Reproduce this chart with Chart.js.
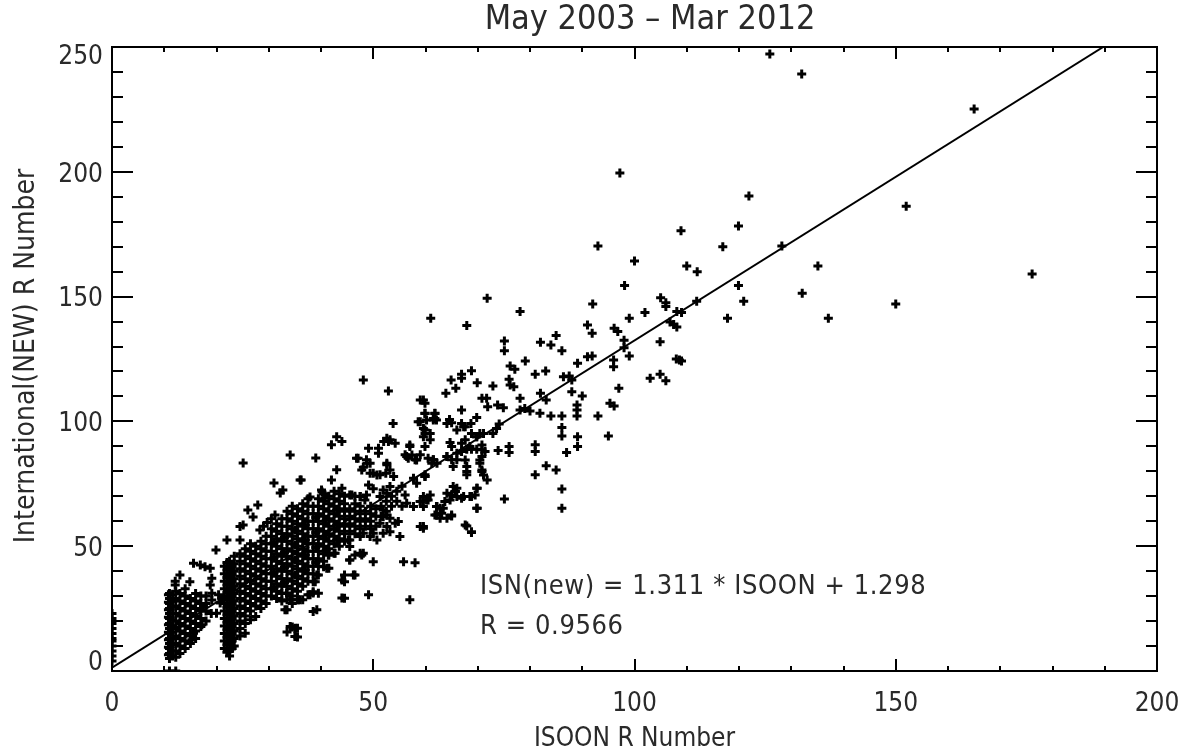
<!DOCTYPE html>
<html>
<head>
<meta charset="utf-8">
<title>ISOON vs International R Number</title>
<script src="https://cdn.jsdelivr.net/npm/chart.js@4.4.0/dist/chart.umd.min.js"></script>
<style>
  html, body { margin: 0; padding: 0; background: #fff; }
  #wrap { width: 1193px; height: 752px; }
</style>
</head>
<body>
<div id="wrap"><canvas id="myChart" width="1193" height="752"></canvas></div>
<script>
// values, as [ISOON R, International(NEW) R]
const isoonZero = [[0,4],[0,6],[0,8],[0,10],[0,12],[0,13],[0,15],[0,17],[0,19],[0,21],[0,23]];

const nearEleven = [
  [11,0],[11,5],[11,7],[11,9],[11,11],[11,13],[11,15],[11,17],[11,19],[11,21],[11,23],[11,25],[11,27],[11,29],[11,31],
  [10.8,6.5],[10.8,9.5],[10.8,12.5],[10.8,15.5],[10.8,18.5],[10.8,21.5],[10.8,24.5],[10.8,27.5],[10.8,30.5],
  [11.6,6],[11.6,8],[11.6,10.5],[11.6,13],[11.6,15.5],[11.6,18],[11.6,20.5],[11.6,23],[11.6,25.5],[11.6,28],[11.6,30.5],
  [12.2,0],[12.2,5.5],[12.2,8],[12.2,11],[12.2,14],[12.2,17],[12.2,20],[12.2,23],[12.2,26],[12.2,29],[12.2,32],[12.1,34.5],[12.1,36],
  [13,7],[13,10],[13,13],[13,16],[13,19],[13,22],[13,25],[13,28],[13,31],[13,38.5],
  [14,9],[14,12],[14,15],[14,18],[14,21],[14,24],[14,27],[14,30],[14,33],
  [15,11],[15,14],[15,17],[15,20],[15,23],[15,26],[15,29],[14.9,35.8],
  [16,13],[16,16],[16,19],[16,22],[16,25],[16,28],[16,31],
  [17,17.8],[17,21],[17,24],[17,27],[17,30],
  [18,20],[18,24],[18,27],[18,30],
  [19,23],[19.1,28.4],[19.1,31.1],[18.8,34.5],[19.1,37.2],
  [20,23.1],[20.4,30.5],[20.7,27.2],[21,29],
  [15.6,43.2],[16.9,42.5],[17.8,41.8],[18.8,41.2],
  [15.3,12.5],[15.6,15.1],[17.2,18.5],[17.5,25.8],[19.9,48.5]
];

const nearTwentyTwo = [
  [21.5,9],[21.5,12],[21.5,15],[21.5,18],[21.5,21],[21.5,24],[21.5,27],[21.5,30],[21.5,33],[21.5,36],[21.5,39],[21.5,42],
  [22.0,7.5],[22.0,10.5],[22.0,13.5],[22.0,16.5],[22.0,19.5],[22.0,22.5],[22.0,25.5],[22.0,28.5],[22.0,31.5],[22.0,34.5],[22.0,37.5],[22.0,40.5],[22.0,43.5],
  [22.5,6],[22.5,8],[22.5,11],[22.5,14],[22.5,17],[22.5,20],[22.5,23],[22.5,26],[22.5,29],[22.5,32],[22.5,35],[22.5,38],[22.5,41],[22.5,44],
  [23.0,9],[23.0,12],[23.0,15],[23.0,18],[23.0,21],[23.0,24],[23.0,27],[23.0,30],[23.0,33],[23.0,36],[23.0,39],[23.0,42],
  [23.4,10],[23.4,13],[23.4,16],[23.4,19],[23.4,22],[23.4,25],[23.4,28],[23.4,31],[23.4,34],[23.4,37],[23.4,40],[23.4,43],[23.4,46],
  [22,52.5]
];

const midRange = [
  [24.5,14],[24.5,17],[24.5,20],[24.5,23],[24.5,26],[24.5,29],[24.5,32],[24.5,35],[24.5,38],[24.5,41],[24.5,44],[24.5,47],[24.5,52.5],[24.5,57.9],
  [25.5,15.1],[25.5,19],[25.5,22],[25.5,25],[25.5,28],[25.5,31],[25.5,34],[25.5,37],[25.5,40],[25.5,43],[25.5,46],[25.5,49],
  [25.1,58.5],[25.1,83.3],
  [26.5,20.5],[26.5,24],[26.5,27],[26.5,30],[26.5,33],[26.5,36],[26.5,39],[26.5,42],[26.5,45],[26.5,48],[26.5,51],
  [26.0,64.5],[27.0,61.7],[27.9,66.5],
  [27.5,21.8],[27.5,26],[27.5,29],[27.5,32],[27.5,35],[27.5,38],[27.5,41],[27.5,44],[27.5,47],[27.5,50],
  [28.5,25],[28.5,28],[28.5,31],[28.5,34],[28.5,37],[28.5,40],[28.5,43],[28.5,46],[28.5,49],[28.5,52],
  [28.3,56.5],[29.0,58],[29.7,59.5],[30.5,61],[31.2,62.5],
  [29.5,27],[29.5,30],[29.5,33],[29.5,36],[29.5,39],[29.5,42],[29.5,45],[29.5,48],[29.5,51],[29.5,54],
  [30.5,30],[30.5,33],[30.5,36],[30.5,39],[30.5,42],[30.5,45],[30.5,48],[30.5,51],[30.5,54],[30.5,57],
  [31.5,29],[31.5,32],[31.5,35],[31.5,38],[31.5,41],[31.5,44],[31.5,47],[31.5,50],[31.5,53],[31.5,56],[31.5,59],
  [31.0,75.3],
  [32.5,28],[32.5,31],[32.5,34],[32.5,37],[32.5,40],[32.5,43],[32.5,46],[32.5,49],[32.5,52],[32.5,55],[32.5,58],[32.5,61],
  [32.7,72.5],[32.2,71.3],
  [33.5,15.6],[33.5,24.5],[33.5,28.5],[33.5,31],[33.5,34],[33.5,37],[33.5,40],[33.5,43],[33.5,46],[33.5,49],[33.5,52],[33.5,55],[33.5,58],[33.5,61],[33.5,64],
  [34.5,17.6],[34.5,27],[34.5,30],[34.5,33],[34.5,36],[34.5,39],[34.5,42],[34.5,45],[34.5,48],[34.5,51],[34.5,54],[34.5,57],[34.5,60],[34.5,63],[34.5,66],
  [34.1,86.5],
  [35.5,13.6],[35.5,17.1],[35.5,28.5],[35.5,32],[35.5,35],[35.5,38],[35.5,41],[35.5,44],[35.5,47],[35.5,50],[35.5,53],[35.5,56],[35.5,59],[35.5,62],[35.5,65],
  [36.5,28.5],[36.5,34],[36.5,37],[36.5,40],[36.5,43],[36.5,46],[36.5,49],[36.5,52],[36.5,55],[36.5,58],[36.5,61],[36.5,64],[36.5,67],
  [36.2,76.5],[36.0,76.5],
  [37.5,30.5],[37.5,36],[37.5,39],[37.5,42],[37.5,45],[37.5,48],[37.5,51],[37.5,54],[37.5,57],[37.5,60],[37.5,63],[37.5,66],[37.5,69],
  [37.9,69.7],
  [38.5,23.8],[38.5,31.8],[38.5,35.8],[38.5,39],[38.5,42],[38.5,45],[38.5,48],[38.5,51],[38.5,54],[38.5,57],[38.5,60],[38.5,63],[38.5,66],
  [39.0,85.3],
  [39.5,31.1],[39.5,38.5],[39.5,42],[39.5,45],[39.5,48],[39.5,51],[39.5,54],[39.5,57],[39.5,60],[39.5,63],[39.5,66],[39.5,69],
  [40.1,72.5],
  [40.5,41.8],[40.5,44],[40.5,47],[40.5,50],[40.5,53],[40.5,56],[40.5,59],[40.5,62],[40.5,65],[40.5,68],[40.5,71],
  [40.2,71.7],[40.8,69.3],
  [41.5,41.2],[41.5,46.5],[41.5,49],[41.5,52],[41.5,55],[41.5,58],[41.5,61],[41.5,64],[41.5,67],[41.5,70],
  [42.0,76.5],
  [42.5,47.2],[42.5,51],[42.5,54],[42.5,57],[42.5,60],[42.5,63],[42.5,66],[42.5,69],[42.5,72],
  [43.0,80.6],[42.0,90.6],
  [43.5,50],[43.5,53],[43.5,56],[43.5,59],[43.5,62],[43.5,65],[43.5,68],[43.5,71],
  [44.0,73.2],[43.0,93.9],
  [44.5,29.1],[44.5,35.8],[44.5,38.5],[44.5,52],[44.5,55],[44.5,58],[44.5,61],[44.5,64],[44.5,67],[44.5,70],
  [44.0,91.9],
  [45.5,44.5],[45.5,49.9],[45.5,52.5],[45.5,56],[45.5,59],[45.5,62],[45.5,65],[45.5,70.5],
  [46.5,38.5],[46.5,46.5],[46.5,55],[46.5,58],[46.5,61],[46.5,64],[46.5,67],
  [47.5,47.2],[47.5,53.9],[47.5,57],[47.5,60],[47.5,63],[47.5,69.9],
  [31,33.5],[31,39.5],[31,45.5],[31,51.5],[33,35.5],[33,41.5],[33,47.5],[33,53.5],
  [35,38.5],[35,44.5],[35,50.5],[35,56.5],[37,40.5],[37,46.5],[37,52.5],[37,58.5],
  [39,43.5],[39,49.5],[39,55.5],[39,61.5],[41,48.5],[41,54.5],[41,60.5],[43,52.5],[43,58.5],[43,64.5]
];

const upperRange = [
  [46.8,85.2],[47.1,85.2],[47.8,80.5],[48.1,81.6],[48.7,84.6],[48.8,83.2],[49.4,83.2],[49.1,89.2],[51.0,89.2],[51.0,87.2],
  [50.0,79.2],[49.4,79.2],[50.7,78.5],[51.3,78.6],[52.4,79.2],[52.6,82.6],[52.6,83.2],[53.2,80.5],[53.9,77.9],
  [52.0,91.9],[52.6,93.2],[52.9,91.9],[53.2,92.6],[54.2,91.2],[53.8,99.2],[52.9,112.2],[48.1,116.6],
  [49.1,74.5],[53.2,73.9],[51.9,72.5],[52.6,71.2],[51.3,69.9],[45.9,70.5],[47.5,69.9],[48.4,68.5],[48.7,70.5],
  [48.5,58],[48.5,61],[48.5,64],[49.5,57],[49.5,60],[49.5,63],[49.5,66],[50.5,58],[50.5,62],[50.5,65],
  [51.5,62],[51.5,66],[52.5,64],[52.5,68],[53.5,66],[53.5,70],[54.5,68],[54.5,72],[55.5,66],[55.5,74],
  [50.0,73],[47.5,66],[46.5,70],
  [51.9,61.9],[51.3,59.2],[52.6,57.9],[51.9,55.2],[50.0,55.2],[48.1,55.2],[49.4,53.9],[50.7,52.5],[53.2,55.8],
  [55.1,53.9],[54.8,59.9],[54.2,59.2],[52.6,62.5],[53.2,61.2],[51.9,64.5],
  [45.2,52.5],[48.1,47.2],[47.8,46.5],[45.5,44.5],[46.2,38.5],[44.0,36.5],[50.0,43.8],[44.0,29.2],[49.1,30.5],
  [55.8,43.8],[58.0,43.4],[57.0,28.5],[41.4,46.5],[41.1,41.2],[42.7,47.2],[38.5,31.2],[39.2,24.5],[36.0,28.5],
  [34.1,17.8],[35.0,17.1],[35.0,13.8],[33.4,31.2],[34.1,28.5],[33.1,24.5],[39.2,38.5],[38.9,35.8],[37.9,30.5],[35.7,28.5],
  [57.0,89.9],[56.1,86.6],[56.7,85.2],[58.0,84.6],[59.0,86.6],[60.5,85.2],[61.5,84.6],[56.4,85.9],[57.4,86.5],[58.3,84.5],
  [57.0,90.5],[57.7,77.2],[59.9,77.9],[58.3,75.2],[56.1,70.5],[56.4,67.2],[57.7,65.9],[59.0,67.9],[60.2,68.5],[60.9,70.5],
  [62.1,65.9],[62.1,62.5],[59.0,57.9],[59.6,57.2],
  [59.9,95.2],[59.6,97.2],[58.6,99.9],[60.2,100.6],[59.9,103.3],[61.8,103.3],[61.5,101.2],[62.1,100.6],[59.6,108.6],[59.9,107.3],[59.0,108.6],
  [62.2,83.2],[64.1,85.9],[66.0,87.2],[67.6,84.5],[68.5,89.9],[67.6,92.6],[70.8,90.5],[71.4,87.9],[68.8,95.2],[61.5,100.6],
  [64.1,99.2],[66.0,96.6],[67.3,97.9],[69.8,93.9],[70.4,84.5],[70.8,80.5],[71.1,78.5],
  [65.3,73.9],[65.7,71.9],[66.0,69.9],[67.3,69.9],[68.5,69.9],[69.5,70.5],[69.8,73.2],[64.1,71.2],[64.7,68.5],[62.2,65.9],
  [63.4,65.2],[63.1,63.2],[64.1,61.2],[65.0,62.5],[69.8,65.2],[67.6,58.5],[68.8,55.8],
  [61.0,141.3],[63.9,111.3],[61.8,103.2],[59.9,103.2],[61.8,101.2],[64.6,100.8],[65.0,99.5],[59.0,99.9],[59.9,96.6],[59.6,93.9],
  [60.9,95.2],[60.9,92.6],[59.9,89.9],[64.7,91.5],[65.0,89.9],[66.9,91.2],[66.9,87.9],[67.9,88.8],[68.8,88.8],[69.8,88.8],
  [70.8,88.6],[70.8,85.9],[70.4,83.2],[70.8,79.9],[71.8,76.5],[64.1,85.9],[65.0,84.6],[66.0,84.6],[65.3,81.9],[67.9,81.9],
  [67.9,79.9],[67.9,78.6],[61.5,84.6],[61.2,83.2],[59.9,78.6],[59.9,77.9],[69.9,73.2],[68.8,69.9],[69.9,65.2],[65.0,70.5],
  [66.0,73.2],[66.9,69.2],[65.7,71.9],[63.7,67.9],[59.6,69.9],[60.5,68.5],[59.6,65.9],[59.0,67.9],[62.8,65.2],[61.8,62.5],
  [62.8,61.2],[65.0,62.1],[59.6,57.9],[67.9,58.1],[68.8,55.5],
  [64.9,116.6],[66.9,118.9],[66.9,117.3],[65.8,113.3],[68.8,120.3],[69.9,115.5],[67.9,138.4],[66.9,104.6],[66.9,99.2],
  [67.6,97.9],[68.7,99.2],[69.8,101.6],[70.8,109.3],[71.7,109.3],[71.9,105.9],[70.4,95.2],[69.8,93.9],[71.1,95.2],[71.8,149.3]
];

const highRange = [
  [72.9,114.2],[73.8,106.6],[74.9,105.5],[74.1,99.0],[73.6,97.2],[72.9,95.2],[73.9,88.3],[76.0,89.9],[76.0,87.5],[75.1,68.9],
  [75.1,132.2],[75.1,128.3],[76.2,122.2],[77.1,120.9],[76.0,116.9],[76.9,113.9],[76.2,114.6],[78.1,144.0],[78.1,109.3],[78.1,104.6],
  [79.0,105.2],[80.0,104.2],[79.1,124.2],[81.0,118.9],[83.0,120.2],[82.0,131.7],[84.0,130.6],[85.0,134.4],[86.1,128.3],[82.0,111.3],
  [83.1,108.6],[81.9,103.3],[84.0,102.2],[86.1,102.2],[81.0,90.6],[81.0,87.9],[83.1,82.2],[85.0,80.5],[81.0,78.6],[86.1,72.9],
  [86.1,65.2],[86.1,97.6],[86.1,94.2],[87.0,87.5],[89.1,89.9],[89.1,93.9],[86.4,117.9],[87.5,118.2],[88.0,116.6],[88.0,111.9],
  [89.1,123.3],[89.0,106.6],[89.0,104.6],[89.0,102.2],[90.0,110.2],[91.0,125.9],[91.9,126.2],[91.0,138.6],[91.9,135.3],[92.0,147.0],
  [93.0,102.2],[93.0,170.3],[95.0,94.2],[95.3,107.3],[96.1,106.2],[96.0,124.6],[96.0,121.9],[96.1,137.3],[96.8,136.0],[97.0,113.3],
  [97.2,199.5],[98.1,154.4],[98.0,132.5],[98.0,129.5],[99.0,141.3],[99.0,126.2],[100.0,164.3],[102.0,143.6],[103.0,117.3],
  [104.9,118.9],[106.0,116.3],[104.9,131.9],[105.0,149.5],[106.0,147.5],[106.0,146.0],[106.8,139.8],[107.5,138.8],[108.1,137.8],
  [108.1,144.0],[109.0,143.6],[108.0,125.0],[108.6,124.6],[109.0,124.2],[108.9,176.4],[110.0,162.3],[112.0,160.0],[111.9,148.1],
  [116.9,170.0],[117.8,141.3],[119.9,178.3],[119.9,154.4],[120.9,148.1],[121.9,190.3],[125.9,247.2],[128.2,170.3],[132.0,239.2],
  [132.1,151.3],[135.1,162.3],[137.1,141.3],[150.0,147.0],[152.0,186.2],[165.0,225.2],[176.1,159.1]
];

// least-squares fit printed on the plot
const fitSlope = 1.311;
const fitOffset = 1.298;
const fitR = 0.9566;

const xTicks = [0, 50, 100, 150, 200];
const yTicks = [0, 50, 100, 150, 200, 250];
const plotTitle = 'May 2003 \u2013 Mar 2012';
const xTitle = 'ISOON R Number';
const yTitle = 'International(NEW) R Number';

const FONT = "'DejaVu Sans Condensed', 'DejaVu Sans', sans-serif";
const INK = '#2a2a2a';

const allPoints = [].concat(isoonZero, nearEleven, nearTwentyTwo, midRange, upperRange, highRange)
  .map(p => ({ x: p[0], y: p[1] }));

const yMax = 250;
const fitLine = [
  { x: 0, y: fitOffset },
  { x: (yMax - fitOffset) / fitSlope, y: yMax }
];

// box, inward ticks and all texts, IDL style
const idlFrame = {
  id: 'idlFrame',
  afterDraw(chart) {
    const ctx = chart.ctx;
    const a = chart.chartArea;
    const xs = chart.scales.x;
    const ys = chart.scales.y;

    ctx.save();
    ctx.strokeStyle = '#000';
    ctx.lineWidth = 2;
    ctx.strokeRect(a.left, a.top, a.right - a.left, a.bottom - a.top);

    ctx.beginPath();
    for (let v = 10; v < 200; v += 10) {
      const px = Math.round(xs.getPixelForValue(v));
      const len = v % 50 === 0 ? 12 : 5;
      ctx.moveTo(px, a.bottom); ctx.lineTo(px, a.bottom - len);
      ctx.moveTo(px, a.top); ctx.lineTo(px, a.top + len);
    }
    for (let v = 10; v < 250; v += 10) {
      const py = Math.round(ys.getPixelForValue(v));
      const len = v % 50 === 0 ? 21 : 11;
      ctx.moveTo(a.left, py); ctx.lineTo(a.left + len, py);
      ctx.moveTo(a.right, py); ctx.lineTo(a.right - len, py);
    }
    ctx.stroke();

    ctx.fillStyle = INK;
    ctx.font = '26px ' + FONT;
    ctx.textBaseline = 'middle';

    ctx.textAlign = 'center';
    xTicks.forEach(v => {
      ctx.fillText(String(v), xs.getPixelForValue(v), a.bottom + 33);
    });

    ctx.textAlign = 'right';
    yTicks.forEach(v => {
      let py = ys.getPixelForValue(v) + 3;
      py = Math.min(Math.max(py, a.top + 10), a.bottom - 8);
      ctx.fillText(String(v), a.left - 9, py);
    });

    ctx.textAlign = 'center';
    ctx.fillText(xTitle, (a.left + a.right) / 2, a.bottom + 68);

    ctx.save();
    ctx.font = '28px ' + FONT;
    ctx.translate(27, 356);
    ctx.rotate(-Math.PI / 2);
    ctx.fillText(yTitle, 0, 0);
    ctx.restore();

    ctx.font = '34px ' + FONT;
    ctx.fillText(plotTitle, 650, 20);

    ctx.font = '27px ' + FONT;
    ctx.letterSpacing = '0.6px';
    ctx.textAlign = 'left';
    ctx.fillText('ISN(new) = ' + fitSlope.toFixed(3) + ' * ISOON + ' + fitOffset.toFixed(3), 480, 587);
    ctx.fillText('R = ' + fitR.toFixed(4), 480, 627);
    ctx.restore();
  }
};

const ctx = document.getElementById('myChart');

new Chart(ctx, {
  type: 'scatter',
  data: {
    datasets: [
      {
        label: 'ISOON vs ISN',
        data: allPoints,
        pointStyle: 'cross',
        pointRadius: 4.5,
        pointBorderWidth: 3,
        pointBorderColor: '#000',
        pointBackgroundColor: '#000',
        borderWidth: 3,
        borderColor: '#000',
        backgroundColor: '#000',
        showLine: false,
        clip: 0
      },
      {
        type: 'line',
        label: 'fit',
        data: fitLine,
        borderColor: '#000',
        borderWidth: 2,
        pointRadius: 0,
        fill: false,
        clip: 0
      }
    ]
  },
  options: {
    responsive: false,
    animation: false,
    devicePixelRatio: 1,
    layout: { padding: { top: 47, right: 36, left: 0, bottom: 0 } },
    elements: {
      point: { pointStyle: 'cross', radius: 4.5, borderWidth: 3 }
    },
    plugins: {
      legend: { display: false },
      tooltip: { enabled: false },
      title: { display: false }
    },
    scales: {
      x: {
        type: 'linear',
        min: 0,
        max: 200,
        ticks: { display: false },
        grid: { display: false },
        border: { display: false },
        afterFit(s) { s.height = 81; }
      },
      y: {
        type: 'linear',
        min: 0,
        max: yMax,
        ticks: { display: false },
        grid: { display: false },
        border: { display: false },
        afterFit(s) { s.width = 112; }
      }
    }
  },
  plugins: [idlFrame]
});
</script>
</body>
</html>
